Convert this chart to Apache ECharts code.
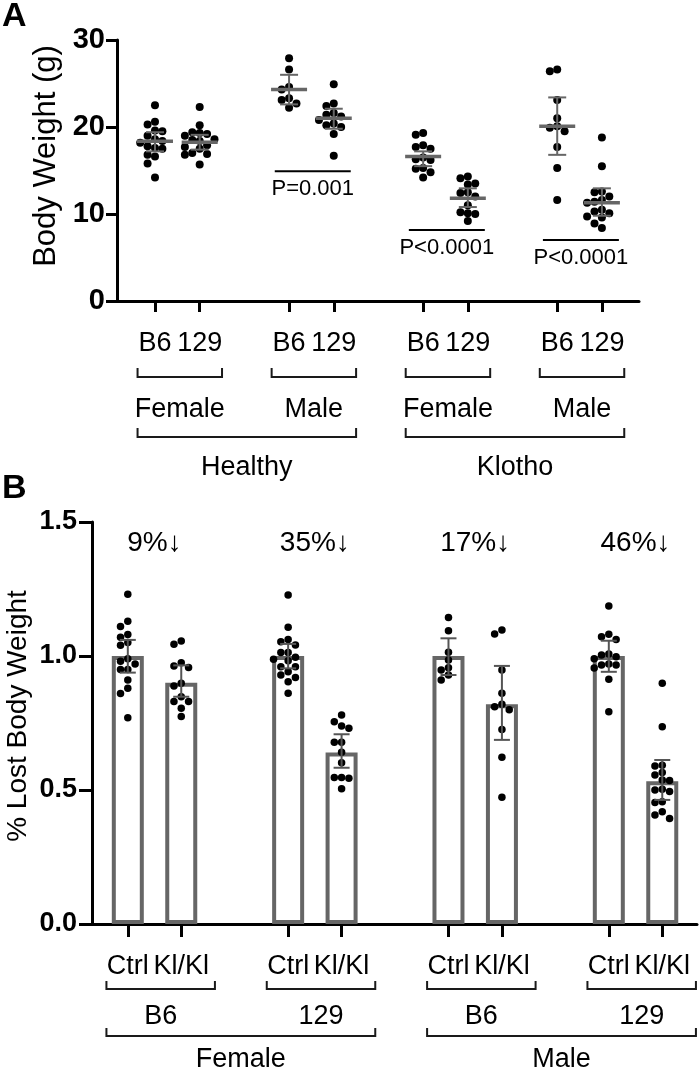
<!DOCTYPE html>
<html><head><meta charset="utf-8">
<script src="https://cdn.jsdelivr.net/npm/echarts@6/dist/echarts.min.js"></script>
<style>html,body{margin:0;padding:0;background:#fff}#c{width:700px;height:1071px}</style>
</head><body><div id="c"></div>
<script>
// ---------- Panel A: body weight (g) ----------
const strainLabelsA = ['B6', '129'];
const sexLabelsA = ['Female', 'Male', 'Female', 'Male'];
const conditionLabelsA = ['Healthy', 'Klotho'];
const healthyFemaleB6 = [22.5, 20.6, 20.3, 19.6, 19.5, 19.0, 18.6, 18.4, 18.2, 17.8, 17.6, 17.5, 16.8, 16.6, 15.8, 14.2];
const healthyFemale129 = [22.3, 20.2, 19.4, 19.3, 19.2, 19.0, 18.6, 18.5, 18.4, 17.9, 17.7, 17.5, 17.0, 16.9, 16.8, 15.7];
const healthyMaleB6 = [27.9, 26.6, 24.6, 24.3, 23.3, 23.1, 22.7, 22.2];
const healthyMale129 = [24.9, 22.7, 22.4, 21.6, 21.4, 21.2, 20.8, 20.4, 20.2, 20.0, 19.2, 16.7];
const klothoFemaleB6 = [19.3, 19.1, 17.9, 17.7, 17.5, 16.5, 16.3, 16.2, 15.3, 15.2, 14.8, 14.2];
const klothoFemale129 = [14.3, 14.1, 13.5, 13.4, 12.5, 12.4, 12.0, 11.0, 10.2, 10.1, 10.0, 9.2];
const klothoMaleB6 = [26.6, 26.4, 23.1, 21.0, 20.1, 19.9, 19.5, 17.7, 15.3, 11.6];
const klothoMale129 = [18.8, 15.5, 12.6, 12.5, 12.0, 11.6, 11.4, 11.3, 10.5, 10.3, 10.1, 9.7, 9.6, 8.9, 8.4];
const meanA = [18.35, 18.25, 24.3, 21.0, 16.6, 11.8, 20.1, 11.3];
const ciLowA = [17.2, 17.4, 22.6, 19.8, 15.5, 10.8, 16.8, 9.8];
const ciHighA = [19.4, 19.1, 26.0, 22.1, 17.2, 12.95, 23.4, 12.95];
const pTextA = ['P=0.001', 'P<0.0001', 'P<0.0001'];
const pPairA = [1, 2, 3];
const pLineYA = [14.9, 8.15, 7.0];
const yTicksA = [0, 10, 20, 30];

// ---------- Panel B: % lost body weight ----------
const genotypeLabelsB = ['Ctrl', 'Kl/Kl'];
const strainLabelsB = ['B6', '129', 'B6', '129'];
const sexLabelsB = ['Female', 'Male'];
const lossLabelsB = ['9%\u2193', '35%\u2193', '17%\u2193', '46%\u2193'];
const femaleB6Ctrl = [1.23, 1.13, 1.11, 1.08, 1.07, 1.05, 1.04, 0.99, 0.98, 0.97, 0.95, 0.95, 0.91, 0.88, 0.86, 0.77];
const femaleB6Kl = [1.056, 1.044, 0.975, 0.963, 0.957, 0.898, 0.888, 0.848, 0.83, 0.83, 0.805, 0.774];
const female129Ctrl = [1.228, 1.107, 1.062, 1.053, 1.041, 1.013, 1.013, 0.995, 0.988, 0.982, 0.96, 0.96, 0.941, 0.929, 0.92, 0.904, 0.861];
const female129Kl = [0.78, 0.755, 0.739, 0.73, 0.678, 0.678, 0.641, 0.602, 0.547, 0.544, 0.547, 0.505];
const maleB6Ctrl = [1.144, 1.094, 1.014, 0.985, 0.956, 0.948, 0.929, 0.91];
const maleB6Kl = [1.097, 1.082, 0.948, 0.861, 0.82, 0.811, 0.799, 0.726, 0.622, 0.473];
const male129Ctrl = [1.187, 1.081, 1.072, 1.062, 1.007, 1.004, 0.997, 0.99, 0.97, 0.966, 0.966, 0.955, 0.913, 0.792];
const male129Kl = [0.898, 0.736, 0.592, 0.59, 0.565, 0.556, 0.537, 0.535, 0.503, 0.5, 0.494, 0.456, 0.453, 0.419, 0.407, 0.394];
const meanB = [1.0, 0.90, 1.0, 0.64, 1.0, 0.82, 1.0, 0.533];
const errLowB = [0.938, 0.848, 0.954, 0.583, 0.929, 0.687, 0.941, 0.463];
const errHighB = [1.06, 0.965, 1.045, 0.708, 1.066, 0.963, 1.057, 0.612];
const yTicksB = [0, 0.5, 1.0, 1.5];

// ---------- layout / helpers ----------
const FONT = '"Liberation Sans", Arial, Helvetica, sans-serif';
const gridA = {left: 117, top: 40, width: 522, height: 261};
const gridB = {left: 92, top: 522, width: 605, height: 402};
const xRangeA = [-0.85, 10.83];
const xRangeB = [-0.67, 10.65];
const slot = i => Math.floor(i / 2) * 3 + (i % 2);
const slotsAll = [0, 1, 2, 3, 4, 5, 6, 7].map(slot);

function swarm(vals, pxX, pxY, step) {
  const order = vals.map((v, i) => i).sort((a, b) => vals[b] - vals[a]);
  const placed = [], off = [];
  for (const i of order) {
    const y = vals[i] * pxY;
    for (let k = 0; k < 60; k++) {
      const m = k === 0 ? 0 : (k % 2 === 1 ? -Math.ceil(k / 2) : Math.ceil(k / 2));
      const x = m * step;
      if (placed.every(p => (p.x - x) ** 2 + (p.y - y) ** 2 >= step * step * 0.96)) {
        placed.push({x, y}); off[i] = x / pxX; break;
      }
    }
  }
  return off;
}
function scatterData(groups, grid, xr, ymax, step) {
  const pxX = grid.width / (xr[1] - xr[0]);
  const pxY = grid.height / ymax;
  const out = [];
  groups.forEach((vals, g) => {
    const off = swarm(vals, pxX, pxY, step);
    vals.forEach((v, j) => out.push([slot(g) + off[j], v]));
  });
  return out;
}

const groupsA = [healthyFemaleB6, healthyFemale129, healthyMaleB6, healthyMale129,
                 klothoFemaleB6, klothoFemale129, klothoMaleB6, klothoMale129];
const groupsB = [femaleB6Ctrl, femaleB6Kl, female129Ctrl, female129Kl,
                 maleB6Ctrl, maleB6Kl, male129Ctrl, male129Kl];

function errorSeries(idx, lows, highs, means, cap, meanHalf, color) {
  return {
    type: 'custom', xAxisIndex: idx, yAxisIndex: idx, z: 5, silent: true, clip: false,
    encode: {x: 0, y: [1, 2, 3]},
    data: lows.map((l, i) => [slot(i), l, highs[i], means[i]]),
    renderItem(params, api) {
      const x = api.value(0);
      const lo = api.coord([x, api.value(1)]);
      const hi = api.coord([x, api.value(2)]);
      const mn = api.coord([x, api.value(3)]);
      const st = {stroke: color, lineWidth: 2};
      const ch = [
        {type: 'line', shape: {x1: lo[0], y1: lo[1], x2: hi[0], y2: hi[1]}, style: st},
        {type: 'line', shape: {x1: lo[0] - cap, y1: lo[1], x2: lo[0] + cap, y2: lo[1]}, style: st},
        {type: 'line', shape: {x1: hi[0] - cap, y1: hi[1], x2: hi[0] + cap, y2: hi[1]}, style: st}
      ];
      if (meanHalf) ch.push({type: 'line', shape: {x1: mn[0] - meanHalf, y1: mn[1], x2: mn[0] + meanHalf, y2: mn[1]},
                             style: {stroke: color, lineWidth: 3.5}});
      return {type: 'group', children: ch};
    }
  };
}

function annotationSeries(idx, items) {
  return {
    type: 'custom', xAxisIndex: idx, yAxisIndex: idx, z: 6, silent: true, clip: false,
    encode: {x: 0, y: 1},
    data: items.map(it => [it.x1 !== undefined ? it.x1 : it.x, it.y !== undefined ? it.y : 0]),
    renderItem(params, api) {
      const it = items[params.dataIndex];
      const base = api.coord([0, 0])[1];
      if (it.kind === 'bracket') {
        const a = api.coord([it.x1, 0])[0], b = api.coord([it.x2, 0])[0];
        const y = base + it.dy;
        return {type: 'polyline', shape: {points: [[a, y - it.h], [a, y], [b, y], [b, y - it.h]]},
                style: {stroke: '#1a1a1a', lineWidth: 2, fill: null}};
      }
      if (it.kind === 'text') {
        const p = api.coord([it.x, it.y !== undefined ? it.y : 0]);
        const y = it.y !== undefined ? p[1] + (it.dy || 0) : base + it.dy;
        return {type: 'text', x: p[0], y: y,
                style: {text: it.text, fontSize: it.size, fontFamily: FONT, fill: '#000',
                        align: 'center', verticalAlign: 'middle'}};
      }
      if (it.kind === 'pline') {
        const a = api.coord([it.x1, it.y]), b = api.coord([it.x2, it.y]);
        return {type: 'group', children: [
          {type: 'line', shape: {x1: a[0], y1: a[1], x2: b[0], y2: b[1]}, style: {stroke: '#000', lineWidth: 2}},
          {type: 'text', x: (a[0] + b[0]) / 2, y: a[1] + 18,
           style: {text: it.text, fontSize: 22, fontFamily: FONT, fill: '#000', align: 'center', verticalAlign: 'middle'}}
        ]};
      }
      return null;
    }
  };
}

// Panel A annotations
const itemsA = [];
pPairA.forEach((pair, k) => {
  itemsA.push({kind: 'pline', x1: slot(2 * pair) - 0.32, x2: slot(2 * pair + 1) + 0.38, y: pLineYA[k], text: pTextA[k]});
});
sexLabelsA.forEach((lab, s) => {
  const x1 = slot(2 * s) - 0.39, x2 = slot(2 * s + 1) + 0.5;
  itemsA.push({kind: 'bracket', x1, x2, dy: 76, h: 9});
  itemsA.push({kind: 'text', x: (x1 + x2) / 2, dy: 109, size: 27, text: lab});
});
conditionLabelsA.forEach((lab, c) => {
  const x1 = slot(4 * c) - 0.39, x2 = slot(4 * c + 3) + 0.5;
  itemsA.push({kind: 'bracket', x1, x2, dy: 136, h: 9});
  itemsA.push({kind: 'text', x: (x1 + x2) / 2, dy: 167, size: 27, text: lab});
});

// Panel B annotations
const itemsB = [];
strainLabelsB.forEach((lab, s) => {
  const x1 = slot(2 * s) - 0.4, x2 = slot(2 * s + 1) + 0.63;
  itemsB.push({kind: 'bracket', x1, x2, dy: 65, h: 8});
  itemsB.push({kind: 'text', x: (x1 + x2) / 2, dy: 93, size: 27, text: lab});
});
sexLabelsB.forEach((lab, c) => {
  const x1 = slot(4 * c) - 0.4, x2 = slot(4 * c + 3) + 0.63;
  itemsB.push({kind: 'bracket', x1, x2, dy: 112, h: 8});
  itemsB.push({kind: 'text', x: (x1 + x2) / 2, dy: 136, size: 27, text: lab});
});
lossLabelsB.forEach((lab, s) => {
  itemsB.push({kind: 'text', x: (slot(2 * s) + slot(2 * s + 1)) / 2, y: 1.42, dy: 0, size: 28, text: lab});
});

const axisText = {color: '#000', fontFamily: FONT};
const option = {
  animation: false,
  backgroundColor: '#fff',
  title: [
    {text: 'A', left: 2, top: 0, textStyle: {fontSize: 34, fontWeight: 'bold', fontFamily: FONT, color: '#000'}, padding: 0},
    {text: 'B', left: 2, top: 472, textStyle: {fontSize: 34, fontWeight: 'bold', fontFamily: FONT, color: '#000'}, padding: 0}
  ],
  graphic: [
    {type: 'text', x: 46, y: 156, rotation: Math.PI / 2,
     style: {text: 'Body Weight (g)', fontSize: 31, fontFamily: FONT, fill: '#000', align: 'center', verticalAlign: 'middle'}},
    {type: 'text', x: 18, y: 716, rotation: Math.PI / 2,
     style: {text: '% Lost Body Weight', fontSize: 28, fontFamily: FONT, fill: '#000', align: 'center', verticalAlign: 'middle'}}
  ],
  grid: [
    Object.assign({containLabel: false}, gridA),
    Object.assign({containLabel: false}, gridB)
  ],
  xAxis: [
    {gridIndex: 0, type: 'value', min: xRangeA[0], max: xRangeA[1],
     axisLine: {show: true, onZero: false, lineStyle: {color: '#000', width: 3}},
     axisTick: {show: true, customValues: slotsAll, length: 11, lineStyle: {color: '#000', width: 3}},
     axisLabel: Object.assign({customValues: slotsAll, formatter: v => strainLabelsA[Math.round(v) % 3 === 0 ? 0 : 1],
                               fontSize: 27, margin: 29}, axisText),
     splitLine: {show: false}},
    {gridIndex: 1, type: 'value', min: xRangeB[0], max: xRangeB[1],
     axisLine: {show: true, onZero: false, lineStyle: {color: '#000', width: 3}},
     axisTick: {show: true, customValues: slotsAll, length: 13, lineStyle: {color: '#000', width: 3}},
     axisLabel: Object.assign({customValues: slotsAll, formatter: v => genotypeLabelsB[Math.round(v) % 3 === 0 ? 0 : 1],
                               fontSize: 27, margin: 29}, axisText),
     splitLine: {show: false}}
  ],
  yAxis: [
    {gridIndex: 0, type: 'value', min: yTicksA[0], max: yTicksA[yTicksA.length - 1], interval: 10,
     axisLine: {show: true, onZero: false, lineStyle: {color: '#000', width: 3}},
     axisTick: {show: true, length: 11, lineStyle: {color: '#000', width: 3}},
     axisLabel: Object.assign({fontSize: 29, fontWeight: 'bold', margin: 12}, axisText),
     splitLine: {show: false}},
    {gridIndex: 1, type: 'value', min: yTicksB[0], max: yTicksB[yTicksB.length - 1], interval: 0.5,
     axisLine: {show: true, onZero: false, lineStyle: {color: '#000', width: 3}},
     axisTick: {show: true, length: 13, lineStyle: {color: '#000', width: 3}},
     axisLabel: Object.assign({fontSize: 27, fontWeight: 'bold', margin: 15, formatter: v => v.toFixed(1)}, axisText),
     splitLine: {show: false}}
  ],
  series: [
    {type: 'scatter', xAxisIndex: 0, yAxisIndex: 0, z: 3, symbol: 'circle', symbolSize: 8,
     itemStyle: {color: '#000', opacity: 1}, data: scatterData(groupsA, gridA, xRangeA, 30, 7.4)},
    errorSeries(0, ciLowA, ciHighA, meanA, 9, 18, '#666'),
    annotationSeries(0, itemsA),
    {type: 'bar', xAxisIndex: 1, yAxisIndex: 1, z: 2, barWidth: 32,
     itemStyle: {color: '#fff', borderColor: '#666', borderWidth: 4},
     data: meanB.map((m, i) => [slot(i), m])},
    {type: 'scatter', xAxisIndex: 1, yAxisIndex: 1, z: 3, symbol: 'circle', symbolSize: 7.5,
     itemStyle: {color: '#000', opacity: 1}, data: scatterData(groupsB, gridB, xRangeB, 1.5, 7.3)},
    errorSeries(1, errLowB, errHighB, meanB, 8, 0, '#555'),
    annotationSeries(1, itemsB)
  ]
};
const chart = echarts.init(document.getElementById('c'));
chart.setOption(option);
</script>
</body></html>
